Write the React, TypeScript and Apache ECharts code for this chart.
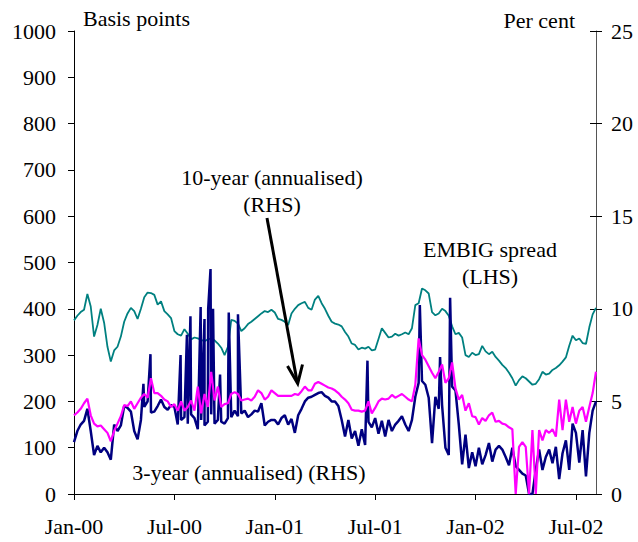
import React, { useEffect, useRef } from "react";
import * as echarts from "echarts";

// Sampling grid: months since Jan-2000, one point every 0.2 month
const STEP = 0.2;
const X_MAX = 31.2;

const TICK_MONTHS = [0, 6, 12, 18, 24, 30];
const TICK_LABELS = ["Jan-00", "Jul-00", "Jan-01", "Jul-01", "Jan-02", "Jul-02"];
const LEFT_TICKS = [0, 100, 200, 300, 400, 500, 600, 700, 800, 900, 1000];
const RIGHT_TICKS = [0, 5, 10, 15, 20, 25];

// EMBIG spread, basis points (LHS)
const EMBIG = [
  375, 385, 393, 398, 432, 405, 340, 365, 400, 370,
  318, 286, 310, 318, 340, 372, 390, 402, 395, 378,
  400, 425, 435, 434, 430, 409, 416, 395, 388, 380,
  352, 345, 342, 356, 346, 334, 338, 336, 333, 330,
  334, 336, 332, 325, 316, 300, 318, 376, 374, 368,
  352, 358, 367, 372, 378, 384, 390, 395, 393, 398,
  392, 378, 376, 372, 365, 390, 400, 408, 412, 415,
  402, 398, 420, 428, 412, 400, 385, 372, 368, 366,
  362, 350, 340, 325, 322, 312, 316, 314, 318, 310,
  312, 335, 358, 348, 338, 340, 346, 342, 345, 349,
  345, 358, 408, 412, 444, 440, 433, 393, 386, 390,
  400, 395, 385, 362, 345, 348, 338, 300, 296, 305,
  300, 302, 320, 308, 302, 307, 296, 288, 279, 272,
  262, 250, 234, 246, 254, 250, 243, 236, 238, 248,
  264, 258, 260, 268, 272, 278, 286, 295, 320, 342,
  332, 336, 326, 324, 360, 388, 402,
];

// 10-year (annualised), per cent (RHS)
const TEN_YEAR = [
  4.25, 4.4, 4.6, 4.9, 5.15, 4.25, 3.8, 3.65, 3.7, 3.5,
  3.3, 2.85, 3.4, 3.8, 4.2, 4.8, 4.75, 5.0, 4.6, 4.9,
  5.2, 5.4, 5.2, 6.25, 5.45, 5.45, 5.3, 5.1, 5.0, 4.7,
  4.85, 4.5, 5.0, 4.5, 4.7, 5.05, 4.5, 5.8, 4.35, 5.4,
  4.7, 6.6, 5.05, 5.8, 4.7, 4.85, 4.9, 5.4, 5.5, 5.4,
  5.05, 5.1, 5.15, 5.05, 5.25, 5.6, 5.45, 5.1, 5.25, 5.6,
  5.45, 5.3, 5.3, 5.3, 5.3, 5.3, 5.4, 5.35, 5.55, 5.8,
  5.6, 5.6, 5.95, 6.05, 5.95, 5.85, 5.75, 5.7, 5.6, 5.45,
  5.25, 5.1, 4.9, 4.55, 4.5, 4.5, 4.45, 4.5, 5.0, 4.35,
  4.65, 5.0, 5.15, 5.1, 5.15, 5.35, 5.2, 5.3, 5.4, 5.25,
  5.1, 5.0, 5.9, 8.4, 7.5, 7.25, 6.9, 6.55, 6.25, 6.6,
  7.0, 6.0, 6.25, 7.1, 5.7, 5.1, 5.35, 4.5, 4.9, 4.2,
  4.15, 3.75, 4.1, 3.95, 4.25, 4.4, 3.9, 3.95, 3.8, 3.75,
  3.6, 3.5, 0, 2.55, 2.8, 2.55, 0, 3.45, 0, 3.45,
  2.9, 3.45, 3.3, 3.5, 3.1, 5.1, 3.45, 5.1, 3.9, 4.7,
  3.8, 4.5, 4.7, 3.9, 4.7, 5.45, 6.6,
];

// 3-year (annualised), per cent (RHS): regular samples
const THREE_YEAR = [
  2.8, 3.4, 3.75, 3.95, 4.6, 3.4, 2.1, 2.6, 2.25, 2.5,
  2.25, 1.85, 3.75, 3.4, 3.7, 4.75, 4.65, 4.45, 3.4, 2.95,
  4.0, 4.7, 5.0, 4.4, 4.45, 4.75, 5.1, 4.7, 4.55, 4.8,
  4.7, 3.75, 4.0, 4.15, 3.8, 4.3, 4.1, 3.5, 4.0, 3.7,
  3.9, 4.3, 3.8, 4.0, 3.9, 3.8, 4.1, 4.15, 4.5, 4.2,
  4.35, 4.5, 4.15, 4.3, 4.5, 4.45, 4.9, 3.7, 3.9, 4.0,
  4.0, 3.75, 4.1, 4.25, 3.75, 4.05, 3.3, 4.25, 4.6, 5.0,
  5.2, 5.25, 5.35, 5.45, 5.5, 5.3, 5.2, 5.0, 5.0, 4.75,
  4.0, 3.1, 4.0, 3.0, 3.4, 2.6, 3.5, 2.65, 3.9, 3.6,
  4.1, 3.25, 3.95, 3.1, 4.0, 3.4, 3.75, 3.95, 4.2, 3.75,
  3.4, 4.0, 5.25, 6.0, 6.1, 5.9, 5.2, 2.75, 5.25, 4.6,
  4.8, 2.5, 2.1, 5.8, 5.6, 3.75, 1.6, 3.2, 1.4, 2.25,
  1.5, 2.5, 1.6, 2.1, 2.75, 1.75, 2.4, 2.6, 2.4, 2.0,
  1.55, 2.5, 1.5, 1.3, 1.1, 1.0, 0, 0, 1.3, 2.4,
  1.3, 2.0, 2.4, 1.66, 2.55, 0.8, 2.2, 2.9, 1.3, 3.8,
  3.3, 1.7, 3.45, 0.95, 3.3, 4.5, 5.0,
];

// 3-year (annualised): one-day spikes (month since Jan-2000, per cent)
const THREE_YEAR_SPIKE_MONTHS = [4.15, 4.57, 6.37, 6.75, 6.96, 7.57, 7.8, 8.02, 8.16, 8.31, 8.73, 9.25, 9.8, 17.54, 20.67, 21.88, 22.48];
const THREE_YEAR_SPIKE_VALUES = [5.95, 7.55, 7.5, 8.6, 9.6, 10.1, 9.45, 10.0, 12.15, 10.0, 6.45, 9.8, 9.7, 7.2, 10.2, 7.4, 10.6];

const FS = 22;
const FONT = `${FS}px "Liberation Serif", "Times New Roman", serif`;

function txt(text: string, x: number, y: number, align: string) {
  return {
    type: "text",
    x,
    y,
    z: 10,
    silent: true,
    style: {
      text,
      fill: "#000",
      font: FONT,
      align,
      verticalAlign: "middle",
      textAlign: align,
      textVerticalAlign: "middle",
    },
  };
}

export default function App() {
  const ref = useRef<HTMLDivElement | null>(null);

  useEffect(() => {
    if (!ref.current) return;
    const chart = echarts.init(ref.current, undefined, { renderer: "svg" });

    const embigData = EMBIG.map((v, i) => [i * STEP, v]);
    const tenData = TEN_YEAR.map((v, i) => [i * STEP, v]);
    const threeData = [
      ...THREE_YEAR.map((v, i) => [i * STEP, v]),
      ...THREE_YEAR_SPIKE_MONTHS.map((m, k) => [m, THREE_YEAR_SPIKE_VALUES[k]]),
    ].sort((a, b) => a[0] - b[0]);

    const annotations: any[] = [
      txt("Basis points", 83, 18, "left"),
      txt("Per cent", 575, 20, "right"),
      txt("10-year (annualised)", 272, 177, "center"),
      txt("(RHS)", 272, 204, "center"),
      txt("EMBIG spread", 490, 249, "center"),
      txt("(LHS)", 490, 276, "center"),
      txt("3-year (annualised) (RHS)", 249, 472, "center"),
      {
        type: "line",
        z: 10,
        shape: { x1: 267, y1: 218, x2: 297, y2: 381 },
        style: { stroke: "#000", lineWidth: 3 },
      },
      {
        type: "polyline",
        z: 10,
        shape: { points: [[287.5, 366], [297.7, 383.5], [302.5, 364.5]] },
        style: { stroke: "#000", lineWidth: 3, fill: null },
      },
    ];

    const option: any = {
      animation: false,
      backgroundColor: "#ffffff",
      grid: { left: 74, right: 42, top: 31, bottom: 48, containLabel: false },
      xAxis: {
        type: "value",
        min: 0,
        max: X_MAX,
        interval: 6,
        axisLine: { show: true, onZero: false, lineStyle: { color: "#000", width: 1 } },
        axisTick: { show: true, length: 6, customValues: TICK_MONTHS, lineStyle: { color: "#000" } },
        axisLabel: { show: false },
        splitLine: { show: false },
      },
      yAxis: [
        {
          type: "value",
          position: "left",
          min: 0,
          max: 1000,
          interval: 100,
          axisLine: { show: true, lineStyle: { color: "#000", width: 1 } },
          axisTick: { show: true, length: 6, lineStyle: { color: "#000" } },
          axisLabel: { show: false },
          splitLine: { show: false },
        },
        {
          type: "value",
          position: "right",
          min: 0,
          max: 25,
          interval: 5,
          axisLine: { show: true, lineStyle: { color: "#555", width: 1 } },
          axisTick: { show: true, length: 6, lineStyle: { color: "#000" } },
          axisLabel: { show: false },
          splitLine: { show: false },
        },
        {
          type: "value",
          position: "right",
          min: 0,
          max: 25,
          interval: 5,
          axisLine: { show: false },
          axisTick: { show: true, inside: true, length: 6, lineStyle: { color: "#000" } },
          axisLabel: { show: false },
          splitLine: { show: false },
        },
      ],
      series: [
        {
          name: "EMBIG spread",
          type: "line",
          yAxisIndex: 0,
          data: embigData,
          showSymbol: false,
          symbol: "none",
          lineStyle: { color: "#008080", width: 1.8 },
          z: 2,
        },
        {
          name: "3-year (annualised)",
          type: "line",
          yAxisIndex: 1,
          data: threeData,
          showSymbol: false,
          symbol: "none",
          lineStyle: { color: "#000080", width: 2.5 },
          z: 3,
        },
        {
          name: "10-year (annualised)",
          type: "line",
          yAxisIndex: 1,
          data: tenData,
          showSymbol: false,
          symbol: "none",
          lineStyle: { color: "#ff00ff", width: 2.2 },
          z: 4,
        },
      ],
      graphic: annotations,
    };

    chart.setOption(option);

    // Tick labels, placed through the axes' own scales
    const leftX = chart.convertToPixel({ yAxisIndex: 0 }, 0) as any;
    const axisLeft = chart.convertToPixel({ xAxisIndex: 0 }, 0) as number;
    const axisRight = chart.convertToPixel({ xAxisIndex: 0 }, X_MAX) as number;
    const axisBottom = chart.convertToPixel({ yAxisIndex: 0 }, 0) as number;
    void leftX;
    const tickTexts: any[] = [
      ...LEFT_TICKS.map((v) =>
        txt(String(v), axisLeft - 18, chart.convertToPixel({ yAxisIndex: 0 }, v) as number, "right")
      ),
      ...RIGHT_TICKS.map((v) =>
        txt(String(v), axisRight + 15, chart.convertToPixel({ yAxisIndex: 1 }, v) as number, "left")
      ),
      ...TICK_MONTHS.map((m, k) =>
        txt(TICK_LABELS[k], chart.convertToPixel({ xAxisIndex: 0 }, m) as number, axisBottom + 32, "center")
      ),
    ];
    chart.setOption({ graphic: [...annotations, ...tickTexts] });

    return () => {
      chart.dispose();
    };
  }, []);

  return (
    <div
      ref={ref}
      style={{ position: "fixed", left: 0, top: 0, width: 638, height: 542, background: "#fff" }}
    />
  );
}
